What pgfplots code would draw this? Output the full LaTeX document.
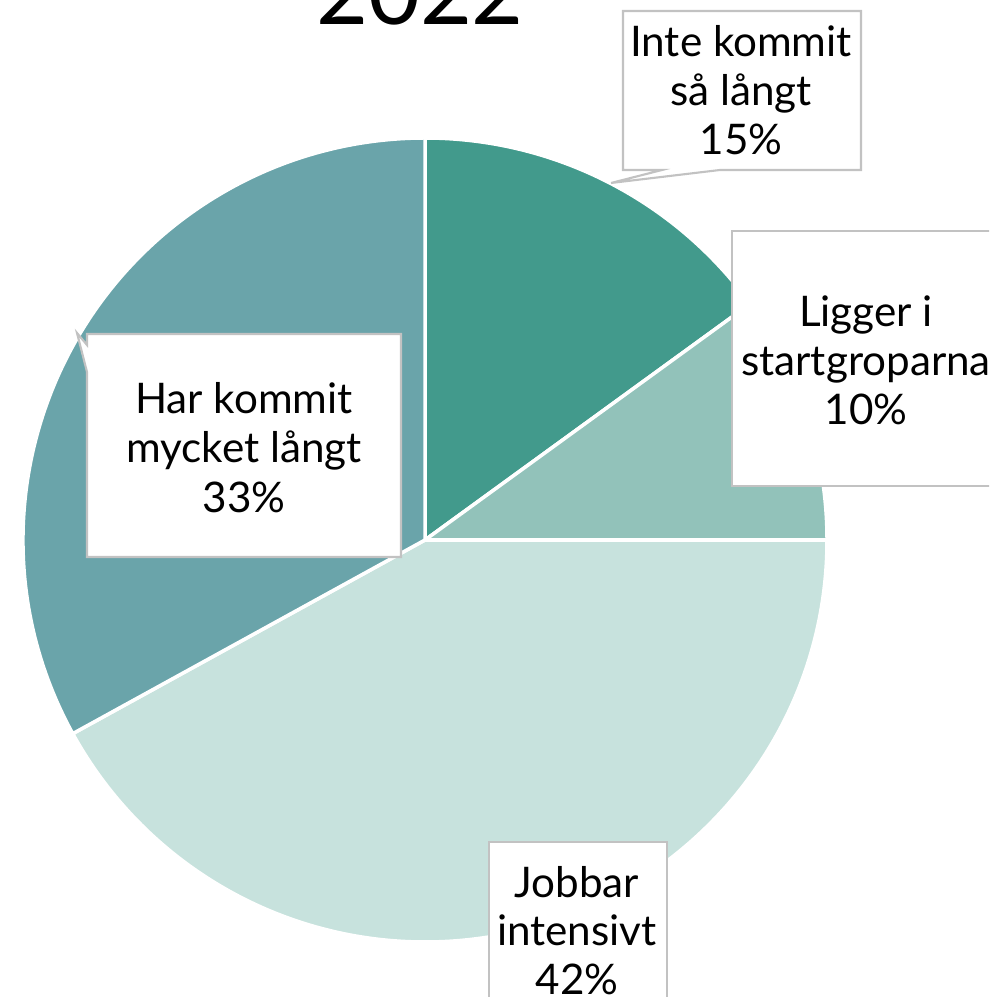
\documentclass[border=0pt]{standalone}
\usepackage{fontspec}
\setmainfont{Lato}
\usepackage{pgfplots}
\pgfplotsset{compat=1.18}
\definecolor{inte}{HTML}{429A8C}
\definecolor{ligger}{HTML}{92C2BA}
\definecolor{jobbar}{HTML}{C7E2DD}
\definecolor{har}{HTML}{6AA4AA}
\definecolor{boxline}{HTML}{C2C2C2}
% shares in percent, clockwise from 12 o'clock
\def\vA{15}\def\vB{10}\def\vC{42}\def\vD{33}
\newcommand{\lblfont}{\fontsize{12}{14}\selectfont}
\newcommand{\lbl}[3]{\node[anchor=base, inner sep=0pt, font=\lblfont] at (axis cs:#1,#2) {#3};}
\begin{document}
\begin{tikzpicture}
\useasboundingbox (0,0) rectangle (9.89cm,9.97cm);
\clip (0,0) rectangle (9.89cm,9.97cm);
\begin{axis}[at={(0,0)}, anchor=south west, scale only axis,
  width=9.89cm, height=9.97cm,
  xmin=0, xmax=989, ymin=0, ymax=997, y dir=reverse,
  hide axis, clip=false]
% pie slices
\fill[inte, draw=white, line width=1pt] (axis cs:425,540) -- ++(90:4.02cm)
  arc[start angle=90, end angle={90-3.6*\vA}, radius=4.02cm] -- cycle;
\fill[ligger, draw=white, line width=1pt] (axis cs:425,540) -- ++({90-3.6*\vA}:4.02cm)
  arc[start angle={90-3.6*\vA}, end angle={90-3.6*(\vA+\vB)}, radius=4.02cm] -- cycle;
\fill[jobbar, draw=white, line width=1pt] (axis cs:425,540) -- ++({90-3.6*(\vA+\vB)}:4.02cm)
  arc[start angle={90-3.6*(\vA+\vB)}, end angle={90-3.6*(\vA+\vB+\vC)}, radius=4.02cm] -- cycle;
\fill[har, draw=white, line width=1pt] (axis cs:425,540) -- ++({90-3.6*(\vA+\vB+\vC)}:4.02cm)
  arc[start angle={90-3.6*(\vA+\vB+\vC)}, end angle=-270, radius=4.02cm] -- cycle;
% title (cut off at the top, as in the source)
\node[anchor=base, inner sep=0pt, font=\fontsize{25.5}{30}\selectfont] at (axis cs:420,25) {2022};
% label boxes
\filldraw[fill=white, draw=boxline, line width=0.6pt]
  (axis cs:623,11) -- (axis cs:861,11) -- (axis cs:861,170) -- (axis cs:720,170)
  -- (axis cs:611,183) -- (axis cs:662,170) -- (axis cs:623,170) -- cycle;
\filldraw[fill=white, draw=boxline, line width=0.6pt]
  (axis cs:732,231) -- (axis cs:1000,231) -- (axis cs:1000,486) -- (axis cs:732,486) -- cycle;
\filldraw[fill=white, draw=boxline, line width=0.6pt]
  (axis cs:87,334) -- (axis cs:401,334) -- (axis cs:401,557) -- (axis cs:87,557)
  -- (axis cs:87,372) -- (axis cs:77,333) -- (axis cs:87,345) -- cycle;
\filldraw[fill=white, draw=boxline, line width=0.6pt]
  (axis cs:489,842) -- (axis cs:667,842) -- (axis cs:667,1010) -- (axis cs:489,1010) -- cycle;
% label texts
\lbl{741}{57}{Inte kommit}
\lbl{741}{106}{så långt}
\lbl{741}{155}{15\%}
\lbl{866}{327}{Ligger i}
\lbl{866}{376}{startgroparna}
\lbl{866}{425}{10\%}
\lbl{244}{414}{Har kommit}
\lbl{244}{463}{mycket långt}
\lbl{244}{513}{33\%}
\lbl{577}{897}{Jobbar}
\lbl{577}{945}{intensivt}
\lbl{577}{994}{42\%}
\end{axis}
\end{tikzpicture}
\end{document}
